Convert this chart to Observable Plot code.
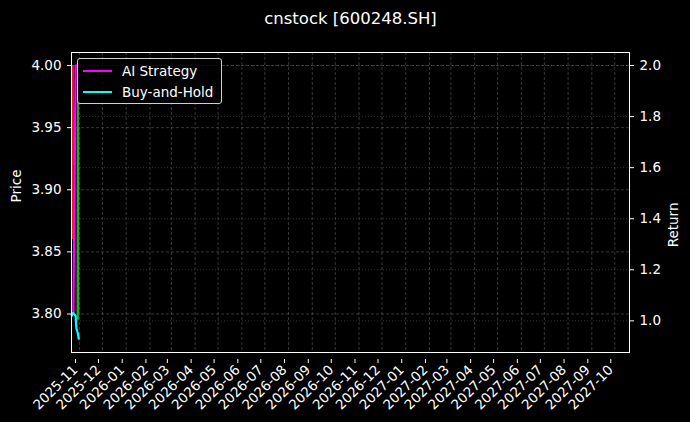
<!DOCTYPE html>
<html>
<head>
<meta charset="utf-8">
<script src="https://cdn.jsdelivr.net/npm/d3@7"></script>
<script src="https://cdn.jsdelivr.net/npm/@observablehq/plot@0.6"></script>
<style>
  html, body { margin: 0; padding: 0; background: #000; }
  #wrap { position: relative; width: 690px; height: 422px; background: #000; font-family: "DejaVu Sans", sans-serif; }
  #legend { position: absolute; left: 77px; top: 58px; width: 143px; height: 44px; border: 1px solid #cfcfcf; border-radius: 3px; background: rgba(0,0,0,0.8); color: #fff; font-size: 13.5px; }
  .item { position: absolute; left: 0; height: 18px; display: flex; align-items: center; }
  .sw { display: inline-block; width: 29px; height: 2.5px; margin-left: 5px; margin-right: 10px; }
</style>
</head>
<body>
<div id="wrap"></div>
<script>
const title = "cnstock [600248.SH]";
const lineDates = ["2025-10-22","2025-10-23","2025-10-24","2025-10-27","2025-10-28","2025-10-29","2025-10-30","2025-10-31"];
const aiReturn  = [1.02, 1.03, 1.03, 2.00, 2.00, 2.00, 2.00, 2.00];
const bhReturn  = [1.02, 1.03, 1.03, 1.02, 0.97, 0.96, 0.95, 0.93];
const candleDates = ["2025-10-23","2025-10-30"];
const candleOpen  = [4.00, 3.80];
const candleClose = [3.92, 3.95];
const candleHigh  = [4.00, 3.98];
const candleLow   = [3.86, 3.795];
const priceTicks  = [3.80, 3.85, 3.90, 3.95, 4.00];
const returnTicks = [1.0, 1.2, 1.4, 1.6, 1.8, 2.0];
const monthTicks  = ["2025-11","2025-12","2026-01","2026-02","2026-03","2026-04","2026-05","2026-06","2026-07","2026-08","2026-09","2026-10","2026-11","2026-12","2027-01","2027-02","2027-03","2027-04","2027-05","2027-06","2027-07","2027-08","2027-09","2027-10"];
const seriesNames = ["AI Strategy", "Buy-and-Hold"];
const seriesColors = ["#ff00ff", "#00ffff"];

const priceDomain = [3.769, 4.0105];
const returnDomain = [0.876, 2.051];
const k = (priceDomain[1] - priceDomain[0]) / (returnDomain[1] - returnDomain[0]);
const toPrice = r => priceDomain[0] + (r - returnDomain[0]) * k;
const toReturn = p => returnDomain[0] + (p - priceDomain[0]) / k;

const parse = s => new Date(s.length === 7 ? s + "-01T00:00:00Z" : s + "T00:00:00Z");
const lines = [];
lineDates.forEach((d, i) => {
  lines.push({date: parse(d), series: seriesNames[0], v: toPrice(aiReturn[i])});
});
lineDates.forEach((d, i) => {
  lines.push({date: parse(d), series: seriesNames[1], v: toPrice(bhReturn[i])});
});
const candles = candleDates.map((d, i) => ({date: parse(d), o: candleOpen[i], c: candleClose[i], h: candleHigh[i], l: candleLow[i]}));
const up = candles.filter(d => d.c >= d.o);
const down = candles.filter(d => d.c < d.o);
const mTicks = monthTicks.map(parse);
const rTicksP = returnTicks.map(toPrice);

const chart = Plot.plot({
  width: 690, height: 422,
  marginLeft: 71, marginRight: 61, marginTop: 52, marginBottom: 70,
  style: {background: "#000", color: "#fff", fontFamily: "DejaVu Sans, sans-serif", fontSize: "13.5px"},
  x: {type: "utc", domain: [new Date("2025-10-21T14:00:00Z"), new Date("2027-10-20T05:00:00Z")]},
  y: {domain: priceDomain},
  marks: [
    Plot.gridX({ticks: mTicks, stroke: "#9a9a9a", strokeOpacity: 0.45, strokeDasharray: "3,2", strokeWidth: 0.8}),
    Plot.gridY({ticks: priceTicks, stroke: "#9a9a9a", strokeOpacity: 0.45, strokeDasharray: "3,2", strokeWidth: 0.8}),
    Plot.gridY({ticks: rTicksP, stroke: "#9a9a9a", strokeOpacity: 0.4, strokeDasharray: "1,2", strokeWidth: 0.8}),
    Plot.ruleX(down, {x: "date", y1: "l", y2: "h", stroke: "#e02020", strokeWidth: 2}),
    Plot.ruleX(down, {x: "date", y1: "o", y2: "c", stroke: "#e02020", strokeWidth: 2.6}),
    Plot.ruleX(up, {x: "date", y1: "l", y2: "h", stroke: "#2aa82a", strokeWidth: 2}),
    Plot.ruleX(up, {x: "date", y1: "o", y2: "c", stroke: "#2aa82a", strokeWidth: 2.6}),
    Plot.line(lines, {x: "date", y: "v", z: "series", stroke: d => seriesColors[seriesNames.indexOf(d.series)], strokeWidth: 2.2}),
    Plot.frame({stroke: "#fff", strokeWidth: 1}),
    Plot.axisX({ticks: mTicks, tickFormat: d3.utcFormat("%Y-%m"), tickRotate: -45, tickSize: 4, tickPadding: 4, dx: -4, dy: 7, label: null, stroke: "#fff"}),
    Plot.axisY({ticks: priceTicks, tickFormat: d3.format(".2f"), tickSize: 4, tickPadding: 6, label: null}),
    Plot.axisY({anchor: "right", ticks: rTicksP, tickFormat: p => toReturn(p).toFixed(1), tickSize: 4, tickPadding: 6, label: null}),
    Plot.text(["Price"], {frameAnchor: "left", dx: -55, rotate: -90, fill: "#fff", fontSize: 13.5}),
    Plot.text(["Return"], {frameAnchor: "right", dx: 44, rotate: -90, fill: "#fff", fontSize: 13.5}),
    Plot.text([title], {frameAnchor: "top", dy: -34, lineAnchor: "middle", fontSize: 16.5, fill: "#fff"})
  ]
});

const wrap = document.getElementById("wrap");
wrap.appendChild(chart);
const legend = document.createElement("div");
legend.id = "legend";
seriesNames.forEach((name, i) => {
  const item = document.createElement("div");
  item.className = "item";
  item.style.top = (3 + i * 21) + "px";
  const sw = document.createElement("span");
  sw.className = "sw";
  sw.style.background = seriesColors[i];
  const t = document.createElement("span");
  t.textContent = name;
  item.appendChild(sw);
  item.appendChild(t);
  legend.appendChild(item);
});
wrap.appendChild(legend);
</script>
</body>
</html>
